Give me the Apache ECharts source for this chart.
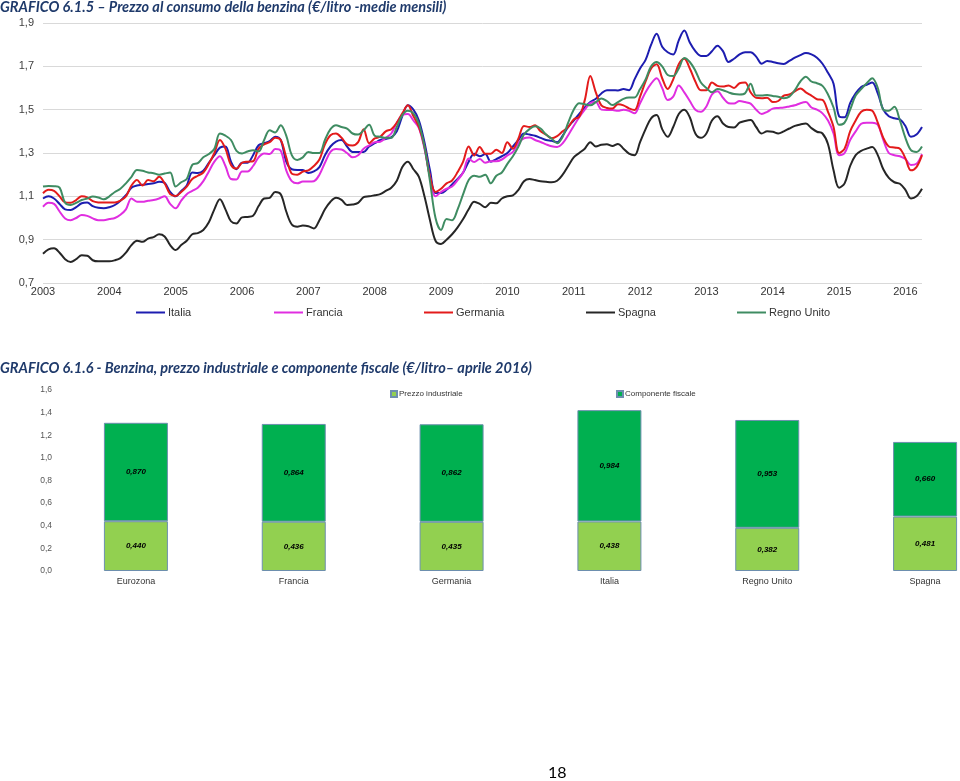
<!DOCTYPE html>
<html>
<head>
<meta charset="utf-8">
<script src="https://cdn.jsdelivr.net/npm/echarts@6/dist/echarts.min.js"></script>
<style>
html,body{margin:0;padding:0;background:#fff;}
#c{width:960px;height:781px;}
</style>
</head>
<body>
<div id="c"></div>
<script>
// ---------- Chart 1 data (monthly, Jan 2003 - Apr 2016) ----------
const years = ['2003','2004','2005','2006','2007','2008','2009','2010','2011','2012','2013','2014','2015','2016'];
const monthsInLastYear = 4;
const seriesNames = ['Italia','Francia','Germania','Spagna','Regno Unito'];
const yTicks1 = [0.7, 0.9, 1.1, 1.3, 1.5, 1.7, 1.9];

const italia = [
1.09,1.10,1.09,1.065,1.04,1.037,1.05,1.068,1.071,1.055,1.047,1.045,
1.05,1.06,1.08,1.105,1.14,1.15,1.153,1.157,1.16,1.167,1.162,1.12,
1.10,1.125,1.15,1.21,1.208,1.218,1.255,1.29,1.325,1.33,1.26,1.225,
1.255,1.255,1.29,1.336,1.345,1.355,1.375,1.36,1.26,1.225,1.222,1.222,
1.208,1.215,1.235,1.29,1.33,1.353,1.36,1.33,1.305,1.305,1.305,1.33,
1.345,1.36,1.365,1.372,1.40,1.47,1.52,1.50,1.45,1.35,1.22,1.115,
1.115,1.13,1.155,1.18,1.21,1.26,1.296,1.285,1.295,1.26,1.272,1.285,
1.30,1.33,1.36,1.39,1.385,1.38,1.37,1.36,1.356,1.35,1.38,1.42,
1.45,1.48,1.51,1.535,1.55,1.575,1.59,1.59,1.589,1.595,1.59,1.64,
1.69,1.73,1.80,1.85,1.79,1.765,1.755,1.82,1.865,1.81,1.77,1.748,
1.748,1.77,1.795,1.77,1.72,1.735,1.755,1.765,1.765,1.745,1.712,1.725,
1.72,1.714,1.711,1.725,1.74,1.752,1.761,1.755,1.74,1.712,1.67,1.62,
1.47,1.465,1.53,1.575,1.605,1.615,1.625,1.575,1.50,1.47,1.46,1.455,
1.425,1.375,1.385,1.42];

const francia = [
1.052,1.07,1.065,1.03,0.998,0.99,1.00,1.014,1.01,0.998,0.99,0.99,
0.995,1.00,1.015,1.04,1.09,1.075,1.075,1.08,1.083,1.09,1.10,1.065,
1.045,1.08,1.11,1.125,1.14,1.17,1.215,1.26,1.285,1.24,1.18,1.178,
1.215,1.215,1.24,1.28,1.298,1.295,1.318,1.31,1.22,1.17,1.16,1.168,
1.168,1.17,1.20,1.255,1.305,1.318,1.316,1.30,1.28,1.29,1.32,1.335,
1.35,1.352,1.37,1.39,1.44,1.475,1.48,1.45,1.415,1.32,1.19,1.10,
1.12,1.135,1.145,1.175,1.21,1.275,1.258,1.272,1.255,1.262,1.262,1.27,
1.289,1.305,1.345,1.368,1.371,1.36,1.351,1.34,1.331,1.328,1.345,1.382,
1.425,1.465,1.50,1.53,1.535,1.50,1.498,1.498,1.495,1.50,1.495,1.483,
1.53,1.58,1.62,1.645,1.60,1.545,1.56,1.612,1.58,1.54,1.50,1.49,
1.515,1.57,1.585,1.555,1.53,1.528,1.54,1.535,1.528,1.50,1.48,1.49,
1.505,1.508,1.51,1.515,1.52,1.53,1.535,1.51,1.50,1.483,1.45,1.39,
1.29,1.30,1.36,1.40,1.435,1.44,1.44,1.43,1.36,1.30,1.29,1.285,
1.272,1.245,1.25,1.295];

const germania = [
1.114,1.13,1.125,1.10,1.072,1.07,1.083,1.10,1.095,1.078,1.072,1.071,
1.071,1.071,1.08,1.10,1.15,1.175,1.15,1.175,1.17,1.19,1.16,1.11,
1.102,1.12,1.145,1.18,1.195,1.21,1.25,1.30,1.36,1.32,1.245,1.228,
1.255,1.26,1.262,1.32,1.34,1.35,1.37,1.36,1.28,1.205,1.20,1.214,
1.22,1.24,1.27,1.34,1.382,1.39,1.37,1.34,1.335,1.35,1.41,1.345,
1.367,1.375,1.40,1.41,1.44,1.483,1.52,1.47,1.42,1.33,1.19,1.12,
1.135,1.16,1.173,1.212,1.26,1.33,1.289,1.328,1.297,1.297,1.315,1.30,
1.35,1.32,1.367,1.425,1.42,1.428,1.40,1.385,1.368,1.378,1.40,1.42,
1.455,1.467,1.544,1.655,1.58,1.52,1.508,1.505,1.525,1.52,1.506,1.498,
1.56,1.63,1.69,1.71,1.645,1.595,1.64,1.71,1.735,1.69,1.63,1.59,
1.59,1.625,1.61,1.607,1.612,1.60,1.622,1.625,1.58,1.555,1.553,1.555,
1.535,1.54,1.565,1.57,1.585,1.598,1.58,1.565,1.548,1.545,1.49,1.42,
1.30,1.32,1.40,1.45,1.49,1.50,1.495,1.44,1.37,1.33,1.325,1.32,
1.275,1.22,1.235,1.29];

const spagna = [
0.835,0.855,0.86,0.84,0.81,0.797,0.81,0.828,0.826,0.805,0.80,0.80,
0.80,0.805,0.815,0.84,0.875,0.895,0.89,0.905,0.912,0.925,0.915,0.875,
0.852,0.875,0.895,0.925,0.93,0.945,0.98,1.04,1.086,1.04,0.985,0.975,
1.003,1.005,1.01,1.055,1.09,1.093,1.12,1.11,1.03,0.97,0.96,0.965,
0.962,0.952,0.99,1.04,1.075,1.093,1.084,1.06,1.062,1.07,1.096,1.10,
1.105,1.11,1.125,1.14,1.172,1.235,1.26,1.225,1.19,1.10,0.99,0.895,
0.88,0.90,0.925,0.957,0.995,1.04,1.075,1.065,1.05,1.07,1.068,1.09,
1.10,1.104,1.13,1.17,1.18,1.175,1.17,1.167,1.165,1.172,1.20,1.24,
1.28,1.30,1.32,1.35,1.33,1.338,1.34,1.332,1.342,1.32,1.297,1.29,
1.35,1.41,1.46,1.475,1.41,1.375,1.42,1.48,1.50,1.465,1.39,1.37,
1.39,1.45,1.47,1.436,1.42,1.418,1.44,1.448,1.452,1.42,1.39,1.40,
1.398,1.39,1.40,1.413,1.425,1.432,1.436,1.415,1.398,1.39,1.34,1.22,
1.14,1.16,1.24,1.29,1.31,1.32,1.328,1.29,1.225,1.185,1.165,1.158,
1.13,1.09,1.10,1.135];

const regnoUnito = [
1.145,1.148,1.147,1.14,1.07,1.06,1.07,1.083,1.09,1.099,1.095,1.086,
1.10,1.12,1.135,1.16,1.19,1.222,1.218,1.21,1.207,1.20,1.205,1.21,
1.145,1.165,1.18,1.245,1.253,1.28,1.295,1.32,1.39,1.38,1.36,1.31,
1.298,1.307,1.313,1.307,1.36,1.405,1.395,1.428,1.38,1.29,1.268,1.28,
1.305,1.30,1.30,1.36,1.41,1.428,1.42,1.413,1.39,1.385,1.405,1.43,
1.38,1.375,1.37,1.37,1.42,1.475,1.495,1.483,1.435,1.33,1.17,1.00,
0.945,0.995,0.99,1.04,1.11,1.175,1.195,1.19,1.20,1.16,1.195,1.21,
1.25,1.285,1.33,1.385,1.41,1.423,1.413,1.385,1.367,1.345,1.375,1.44,
1.50,1.53,1.525,1.52,1.535,1.552,1.54,1.521,1.535,1.55,1.556,1.556,
1.595,1.64,1.70,1.72,1.70,1.66,1.655,1.69,1.738,1.72,1.68,1.625,
1.60,1.58,1.595,1.59,1.58,1.572,1.57,1.576,1.62,1.565,1.565,1.568,
1.563,1.56,1.553,1.56,1.59,1.63,1.652,1.63,1.622,1.61,1.57,1.51,
1.43,1.44,1.50,1.565,1.595,1.622,1.645,1.60,1.50,1.495,1.513,1.45,
1.37,1.313,1.305,1.33];

// ---------- Chart 2 data ----------
const barCats = ['Eurozona','Francia','Germania','Italia','Regno Unito','Spagna'];
const prezzoIndustriale = [0.440,0.436,0.435,0.438,0.382,0.481];
const componenteFiscale = [0.870,0.864,0.862,0.984,0.953,0.660];
const yTicks2 = [0.0,0.2,0.4,0.6,0.8,1.0,1.2,1.4,1.6];

// month categories built from the year list
const months = [];
years.forEach((y, yi) => {
  const n = (yi === years.length - 1) ? monthsInLastYear : 12;
  for (let m = 1; m <= n; m++) months.push(y + '-' + (m < 10 ? '0' + m : m));
});

const colors = {
  'Italia': '#1d1db0',
  'Francia': '#e02ee0',
  'Germania': '#e31b1b',
  'Spagna': '#262626',
  'Regno Unito': '#3f8c62'
};
const lineData = {
  'Italia': italia, 'Francia': francia, 'Germania': germania,
  'Spagna': spagna, 'Regno Unito': regnoUnito
};

const chart = echarts.init(document.getElementById('c'), null, {renderer: 'canvas'});

const fmtComma = (v, d) => v.toFixed(d).replace('.', ',');
const legendLefts = {'Italia': 136, 'Francia': 274, 'Germania': 424, 'Spagna': 586, 'Regno Unito': 737};
const titleStyle = {fontFamily: 'Lato', fontStyle: 'italic', fontWeight: 'bold', fontSize: 14.5, color: '#1f3a6b'};

const lineSeries = seriesNames.map(n => ({
  name: n, type: 'line', xAxisIndex: 0, yAxisIndex: 0,
  data: lineData[n], showSymbol: false, smooth: 0.35,
  lineStyle: {width: 2, color: colors[n]}, itemStyle: {color: colors[n]},
  animation: false
}));

const legends1 = seriesNames.map(n => ({
  data: [n], left: legendLefts[n], top: 307,
  icon: 'rect', itemWidth: 29, itemHeight: 2, itemGap: 0, padding: 0,
  textStyle: {fontFamily: 'Liberation Sans', fontSize: 11, color: '#333', padding: [0,0,0,-2]}
}));

const option = {
  backgroundColor: '#fff',
  animation: false,
  title: [
    {text: 'GRAFICO 6.1.5 \u2013 Prezzo al consumo della benzina (\u20ac/litro -medie mensili)', left: 0, top: 0, padding: 0, textStyle: titleStyle},
    {text: 'GRAFICO 6.1.6 - Benzina, prezzo industriale e componente fiscale (\u20ac/litro\u2013 aprile 2016)', left: 0, top: 361, padding: 0, textStyle: titleStyle},
    {text: '18', left: 548, top: 765, padding: 0, textStyle: {fontFamily: 'Lato', fontSize: 16, fontWeight: 'normal', color: '#000'}}
  ],
  legend: legends1.concat([
    {data: ['Prezzo industriale'], left: 390, top: 390, icon: 'rect', itemWidth: 6, itemHeight: 6, padding: 0,
     textStyle: {fontFamily: 'Liberation Sans', fontSize: 8, color: '#333', padding: [0,0,0,-3]}},
    {data: ['Componente fiscale'], left: 616, top: 390, icon: 'rect', itemWidth: 6, itemHeight: 6, padding: 0,
     textStyle: {fontFamily: 'Liberation Sans', fontSize: 8, color: '#333', padding: [0,0,0,-3]}}
  ]),
  grid: [
    {left: 43, right: 38, top: 23, height: 260, containLabel: false, outerBoundsMode: 'none'},
    {left: 57, width: 947, top: 390, height: 181, containLabel: false, outerBoundsMode: 'none'}
  ],
  xAxis: [
    {type: 'category', gridIndex: 0, data: months, boundaryGap: false,
     axisLine: {show: false}, axisTick: {show: false},
     axisLabel: {interval: 11, formatter: v => v.slice(0, 4), fontFamily: 'Liberation Sans', fontSize: 11, color: '#333', margin: 3},
     splitLine: {show: false}},
    {type: 'category', gridIndex: 1, data: barCats,
     axisLine: {show: false}, axisTick: {show: false},
     axisLabel: {fontFamily: 'Liberation Sans', fontSize: 9, color: '#333', margin: 6}}
  ],
  yAxis: [
    {type: 'value', gridIndex: 0, min: yTicks1[0], max: yTicks1[yTicks1.length - 1], interval: 0.2,
     axisLine: {show: false}, axisTick: {show: false},
     axisLabel: {formatter: v => fmtComma(v, 1), fontFamily: 'Liberation Sans', fontSize: 11, color: '#404040', margin: 9},
     splitLine: {lineStyle: {color: '#d9d9d9', width: 1}}},
    {type: 'value', gridIndex: 1, min: yTicks2[0], max: yTicks2[yTicks2.length - 1], interval: 0.2,
     axisLine: {show: false}, axisTick: {show: false},
     axisLabel: {formatter: v => fmtComma(v, 1), fontFamily: 'Liberation Sans', fontSize: 8.5, color: '#555', margin: 5},
     splitLine: {show: false}}
  ],
  series: lineSeries.concat([
    {name: 'Prezzo industriale', type: 'bar', stack: 'tot', xAxisIndex: 1, yAxisIndex: 1,
     data: prezzoIndustriale, barWidth: 64,
     itemStyle: {color: '#92d050', borderColor: '#6d8fae', borderWidth: 1},
     label: {show: true, position: 'inside', formatter: p => fmtComma(p.value, 3),
             fontFamily: 'Liberation Sans', fontStyle: 'italic', fontWeight: 'bold', fontSize: 8, color: '#000'}},
    {name: 'Componente fiscale', type: 'bar', stack: 'tot', xAxisIndex: 1, yAxisIndex: 1,
     data: componenteFiscale, barWidth: 64,
     itemStyle: {color: '#00b050', borderColor: '#6d8fae', borderWidth: 1},
     label: {show: true, position: 'inside', formatter: p => fmtComma(p.value, 3),
             fontFamily: 'Liberation Sans', fontStyle: 'italic', fontWeight: 'bold', fontSize: 8, color: '#000'}}
  ])
};
chart.setOption(option);
</script>
</body>
</html>
